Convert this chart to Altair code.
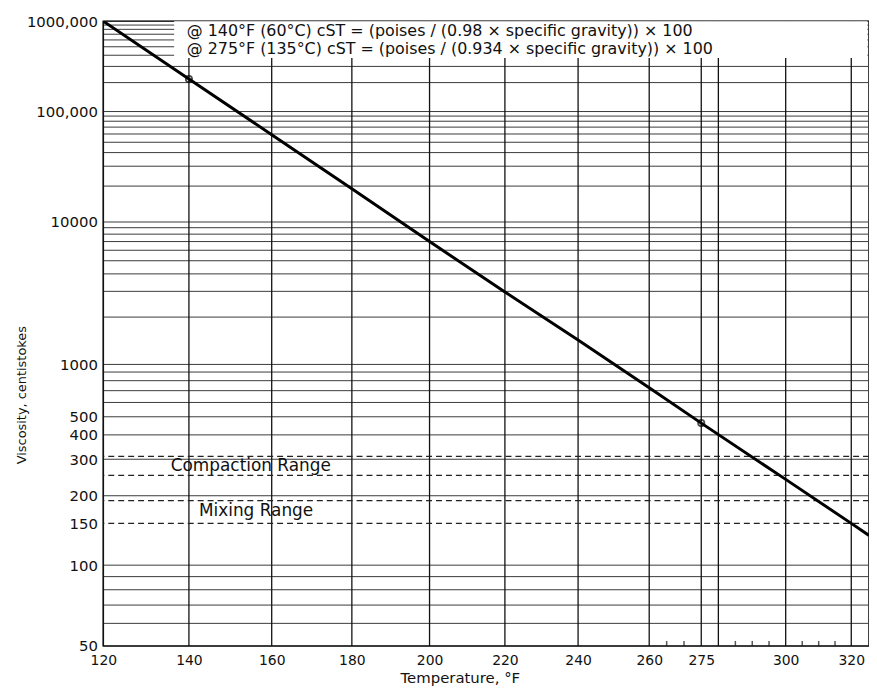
import math
import json
import altair as alt
import pandas as pd

# ---- data ----
line_temp = [120, 140, 160, 180, 200, 220, 240, 260, 275, 300, 320, 325.5]
line_visc = [1000000, 219000, 59000, 19000, 7000, 2970, 1420, 728, 462, 239, 150, 133]

marker_temp = [140, 275]
marker_visc = [219000, 462]

x_tick_temp = [120, 140, 160, 180, 200, 220, 240, 260, 275, 300, 320]
x_tick_text = ["120", "140", "160", "180", "200", "220", "240", "260", "275", "300", "320"]
x_grid_temp = [120, 140, 160, 180, 200, 220, 240, 260, 275, 280, 300, 320]
x_minor_temp = [265, 270, 285, 290, 295, 305, 310, 315]

y_tick_visc = [50, 100, 150, 200, 300, 400, 500, 1000, 10000, 100000, 1000000]
y_tick_text = ["50", "100", "150", "200", "300", "400", "500", "1000", "10000", "100,000", "1000,000"]
y_grid_visc = [50, 60, 70, 80, 90,
               100, 200, 300, 400, 500, 600, 700, 800, 900,
               1000, 2000, 3000, 4000, 5000, 6000, 7000, 8000, 9000,
               10000, 20000, 30000, 40000, 50000, 60000, 70000, 80000, 90000,
               100000, 200000, 300000, 400000, 500000, 600000, 700000, 800000, 900000,
               1000000]

range_visc = [310, 250, 190, 150]
range_label = ["Compaction Range", "Mixing Range"]
range_label_temp = [135.7, 142.4]
range_label_visc = [279, 170]

note_lines = ["@ 140°F (60°C) cST = (poises / (0.98 × specific gravity)) × 100",
              "@ 275°F (135°C) cST = (poises / (0.934 × specific gravity)) × 100"]
note_temp = [139.5, 139.5]
note_visc = [760000, 470000]

box_temp = [136.5, 325.0]
box_visc = [1000000, 372000]

T_MIN, T_MAX = 120, 325.5
V_MIN, V_MAX = 50, 1000000

FONT = "DejaVu Sans"


def tx(t):
    return math.log10(t + 459.67)


def vy(v):
    return math.log10(math.log10(v))


XT = "log(datum.temp + 459.67) / LN10"
YT = "log(log(datum.visc) / LN10) / LN10"

x_scale = alt.Scale(domain=[tx(T_MIN), tx(T_MAX)], nice=False, zero=False)
y_scale = alt.Scale(domain=[vy(V_MIN), vy(V_MAX)], nice=False, zero=False)

x_vals = [tx(t) for t in x_tick_temp]
y_vals = [vy(v) for v in y_tick_visc]

x_label_expr = f"({json.dumps(x_tick_text)})[indexof({json.dumps(x_vals)}, datum.value)] || ''"
y_label_expr = f"({json.dumps(y_tick_text)})[indexof({json.dumps(y_vals)}, datum.value)] || ''"

x_axis = alt.Axis(values=x_vals, labelExpr=x_label_expr, title="Temperature, °F",
                  grid=False, ticks=False, domain=False, labelFlush=False,
                  labelOverlap=False, labelPadding=8, labelFontSize=14,
                  titleX=359, titleY=32,
                  titleAlign="center", titleBaseline="middle", titleFontSize=15)
y_axis = alt.Axis(values=y_vals, labelExpr=y_label_expr, title="Viscosity, centistokes",
                  grid=False, ticks=False, domain=False, labelFlush=False,
                  labelOverlap=False, labelPadding=6, labelFontSize=15, titleAngle=270,
                  titleX=-82, titleY=376, titleAlign="center", titleBaseline="middle",
                  titleFontSize=13)

X = alt.X("xt:Q", scale=x_scale, axis=x_axis)
Y = alt.Y("yt:Q", scale=y_scale, axis=y_axis)

df_hgrid = pd.DataFrame({"visc": y_grid_visc})
df_vgrid = pd.DataFrame({"temp": x_grid_temp})
df_range = pd.DataFrame({"visc": range_visc})
df_minor = pd.DataFrame({"temp": x_minor_temp, "visc": [V_MIN] * len(x_minor_temp)})
df_box = pd.DataFrame({"t1": [box_temp[0]], "t2": [box_temp[1]],
                       "v1": [box_visc[0]], "v2": [box_visc[1]]})
df_note = pd.DataFrame({"temp": note_temp, "visc": note_visc, "label": note_lines})
df_rlab = pd.DataFrame({"temp": range_label_temp, "visc": range_label_visc, "label": range_label})
df_line = pd.DataFrame({"temp": line_temp, "visc": line_visc})
df_mark = pd.DataFrame({"temp": marker_temp, "visc": marker_visc})

hgrid = alt.Chart(df_hgrid).transform_calculate(yt=YT).mark_rule(
    color="#3a3a3a", strokeWidth=1).encode(y=Y)
vgrid = alt.Chart(df_vgrid).transform_calculate(xt=XT).mark_rule(
    color="#111111", strokeWidth=1.3).encode(x=X)
ranges = alt.Chart(df_range).transform_calculate(yt=YT).mark_rule(
    color="#222222", strokeWidth=1.2, strokeDash=[6, 4]).encode(y=Y)
minor = alt.Chart(df_minor).transform_calculate(xt=XT, yt=YT).mark_tick(
    orient="vertical", size=5, thickness=1.5, yOffset=-2.5, color="#111111").encode(x=X, y=Y)
box = alt.Chart(df_box).transform_calculate(
    xt="log(datum.t1 + 459.67) / LN10", xt2="log(datum.t2 + 459.67) / LN10",
    yt="log(log(datum.v1) / LN10) / LN10", yt2="log(log(datum.v2) / LN10) / LN10"
).mark_rect(color="white", opacity=1).encode(x=X, x2="xt2:Q", y=Y, y2="yt2:Q")
notes = alt.Chart(df_note).transform_calculate(xt=XT, yt=YT).mark_text(
    align="left", baseline="middle", font=FONT, fontSize=16, color="#111111"
).encode(x=X, y=Y, text="label:N")
rlabels = alt.Chart(df_rlab).transform_calculate(xt=XT, yt=YT).mark_text(
    align="left", baseline="middle", font=FONT, fontSize=17, color="#111111"
).encode(x=X, y=Y, text="label:N")
line = alt.Chart(df_line).transform_calculate(xt=XT, yt=YT).mark_line(
    color="black", strokeWidth=3, clip=True).encode(x=X, y=Y, order="temp:Q")
marks = alt.Chart(df_mark).transform_calculate(xt=XT, yt=YT).mark_point(
    shape="circle", size=40, filled=False, stroke="black", strokeWidth=1.8).encode(x=X, y=Y)

chart = alt.layer(hgrid, vgrid, ranges, minor, box, notes, rlabels, line, marks).properties(
    width=771, height=629, autosize="none",
    padding={"left": 96, "top": 11, "right": 0, "bottom": 38},
    background="white"
).configure_view(
    stroke="black", strokeWidth=1.5
).configure_axis(
    labelFont=FONT, labelFontSize=15, labelColor="#111111",
    titleFont=FONT, titleFontSize=15, titleFontWeight="normal", titleColor="#111111"
)

chart.save("out.html", embed_options={"renderer": "svg", "actions": False})
